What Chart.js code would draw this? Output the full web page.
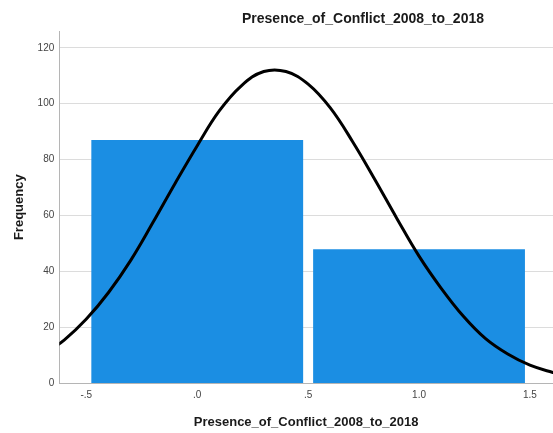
<!DOCTYPE html>
<html>
<head>
<meta charset="utf-8">
<script src="https://cdn.jsdelivr.net/npm/chart.js@4/dist/chart.umd.min.js"></script>
<style>
  html, body { margin: 0; padding: 0; background: #fff; }
  #wrap { position: relative; width: 553px; height: 433px; }
  #title {
    position: absolute; left: 163px; top: 9px; width: 400px;
    text-align: center; font: bold 14px 'Liberation Sans', Arial, sans-serif;
    line-height: 18px; color: #1a1a1a;
  }
</style>
</head>
<body>
<div id="wrap">
  <div id="title">Presence_of_Conflict_2008_to_2018</div>
  <canvas id="hist" width="553" height="433"></canvas>
</div>
<script>
// 直方图数据（两个组，中心 0 和 1）
const binCenters = [0, 1];
const frequencies = [87, 48];

// 正态曲线（从图上读取的点）
const curveX = [-0.7, -0.6, -0.5, -0.4, -0.3, -0.2, -0.1, 0.0, 0.1, 0.2, 0.3, 0.4,
  0.5, 0.6, 0.7, 0.8, 0.9, 1.0, 1.1, 1.2, 1.3, 1.4, 1.5, 1.6, 1.7];
const curveY = [10, 15.5, 23, 32.5, 44, 57.5, 71.5, 85, 97.5, 106.5, 111.5, 111.5,
  107, 98.5, 86.5, 73, 59, 45.5, 34, 24, 16, 10.5, 6.5, 4, 2];

// 坐标轴刻度
const xTicks = [-0.5, 0, 0.5, 1.0, 1.5];
const yTicks = [0, 20, 40, 60, 80, 100, 120];

const FONT = "'Liberation Sans', Arial, sans-serif";

// SPSS 风格的标签：-.5  .0  .5  1.0  1.5
function spssLabel(v) {
  let s = Number(v).toFixed(1);
  return s.replace(/^(-?)0\./, '$1.');
}

const histChart = new Chart(document.getElementById('hist'), {
  data: {
    datasets: [
      {
        type: 'line',
        label: 'Normal',
        data: curveX.map((x, i) => ({ x: x, y: curveY[i] })),
        borderColor: '#000',
        borderWidth: 3,
        pointRadius: 0,
        tension: 0.4,
        fill: false,
        order: 0
      },
      {
        type: 'bar',
        label: 'Frequency',
        data: binCenters.map((x, i) => ({ x: x, y: frequencies[i] })),
        backgroundColor: '#1b8ee3',
        borderWidth: 0,
        // 刻度间隔是组宽的一半，所以这里约为 2 * 0.955
        barPercentage: 1.91,
        categoryPercentage: 1,
        order: 1
      }
    ]
  },
  options: {
    responsive: false,
    animation: false,
    layout: { padding: { top: 31, left: 7, right: 0, bottom: 0 } },
    plugins: {
      legend: { display: false },
      tooltip: { enabled: false }
    },
    scales: {
      x: {
        type: 'linear',
        position: 'bottom',
        offset: false,
        min: -0.622,
        max: 1.604,
        afterBuildTicks: (scale) => { scale.ticks = xTicks.map(v => ({ value: v })); },
        ticks: {
          callback: (v) => spssLabel(v),
          font: { family: FONT, size: 10 },
          color: '#444',
          padding: 6,
          maxRotation: 0
        },
        grid: { display: false, drawTicks: false, offset: false },
        border: { display: true, color: '#b5b5b5', width: 1 },
        title: {
          display: true,
          text: 'Presence_of_Conflict_2008_to_2018',
          font: { family: FONT, size: 13, weight: 'bold' },
          color: '#1a1a1a',
          padding: { top: 7, bottom: 3 }
        }
      },
      y: {
        type: 'linear',
        min: 0,
        max: 126,
        afterBuildTicks: (scale) => { scale.ticks = yTicks.map(v => ({ value: v })); },
        ticks: {
          font: { family: FONT, size: 10 },
          color: '#444',
          padding: 5
        },
        grid: { color: '#dcdcdc', lineWidth: 1, drawTicks: false },
        border: { display: true, color: '#b5b5b5', width: 1 },
        title: {
          display: true,
          text: 'Frequency',
          font: { family: FONT, size: 13, weight: 'bold' },
          color: '#1a1a1a',
          padding: { top: 5, bottom: 5 }
        }
      }
    }
  }
});
</script>
</body>
</html>
